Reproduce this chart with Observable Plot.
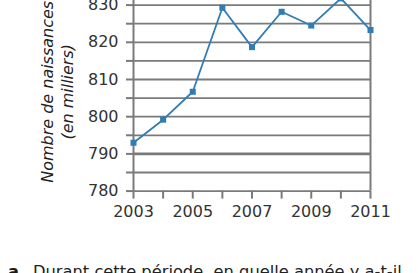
<!DOCTYPE html>
<html>
<head>
<meta charset="utf-8">
<script src="https://cdn.jsdelivr.net/npm/d3@7"></script>
<script src="https://cdn.jsdelivr.net/npm/@observablehq/plot@0.6"></script>
<style>
  html, body { margin: 0; padding: 0; background: #fff; }
  body { width: 418px; height: 273px; overflow: hidden; position: relative; font-family: "DejaVu Sans", sans-serif; }
  #chart { position: absolute; left: 0; top: -33.6px; }
  #question { position: absolute; left: 8px; top: 262px; font-size: 16.3px; color: #222; white-space: nowrap; line-height: 20px; }
  #question b { color: #1a1a1a; margin-right: 14px; }
</style>
</head>
<body>
<div id="chart"></div>
<div id="question"><b>a</b>Durant cette période, en quelle année y a-t-il</div>
<script>
const years = [2003, 2004, 2005, 2006, 2007, 2008, 2009, 2010, 2011];
const births = [793, 799.2, 806.7, 829.3, 818.7, 828.2, 824.5, 831.8, 823.3];
const yGrid = [780, 785, 790, 795, 800, 805, 810, 815, 820, 825, 830, 835];
const yLabels = [780, 790, 800, 810, 820, 830];
const xLabels = [2003, 2005, 2007, 2009, 2011];
const yTitle = ["Nombre de naissances", "(en milliers)"];

const data = years.map((y, i) => ({year: y, value: births[i]}));
const gray = "#7a7a7a";
const blue = "#2f7db4";

const chart = Plot.plot({
  width: 418,
  height: 264.6,
  marginLeft: 133,
  marginRight: 48,
  marginTop: 20,
  marginBottom: 40,
  style: {fontFamily: "DejaVu Sans, sans-serif", fontSize: "16px", color: "#333", background: "white"},
  x: {domain: [2003, 2011]},
  y: {domain: [780, 835]},
  marks: [
    Plot.ruleY(yGrid, {x1: 2003, x2: 2011, stroke: gray, strokeWidth: d => d === 790 ? 2.6 : 1.8}),
    Plot.ruleX([2003, 2011], {y1: 780, y2: 835, stroke: gray, strokeWidth: 2}),
    Plot.axisY({ticks: yGrid, tickSize: 7, tickPadding: 8, stroke: gray, strokeWidth: 2, strokeOpacity: 1,
      tickFormat: d => yLabels.includes(d) ? String(d) : "", fill: "#333", label: null}),
    Plot.axisX({ticks: years, tickSize: 8, tickPadding: 7, stroke: gray, strokeWidth: 2, strokeOpacity: 1,
      tickFormat: d => xLabels.includes(d) ? String(d) : "", fill: "#333", label: null}),
    Plot.line(data, {x: "year", y: "value", stroke: blue, strokeWidth: 1.8}),
    Plot.dot(data, {x: "year", y: "value", symbol: "square", r: 3.4, fill: blue, stroke: "none"}),
    Plot.text([yTitle[0]], {frameAnchor: "left", textAnchor: "middle", rotate: -90, dx: -86, dy: 3, fontStyle: "italic", fontSize: 16, fill: "#222"}),
    Plot.text([yTitle[1]], {frameAnchor: "left", textAnchor: "middle", rotate: -90, dx: -66, dy: 3, fontStyle: "italic", fontSize: 16, fill: "#222"})
  ]
});
document.getElementById("chart").appendChild(chart);
</script>
</body>
</html>
